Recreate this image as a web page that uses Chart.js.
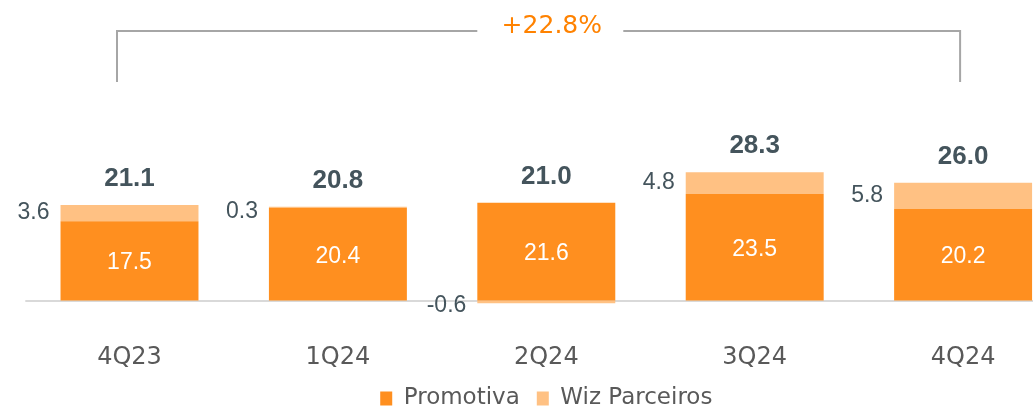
<!DOCTYPE html>
<html>
<head>
<meta charset="utf-8">
<script src="https://cdn.jsdelivr.net/npm/chart.js@4.4.1/dist/chart.umd.min.js"></script>
<style>
  html, body { margin: 0; padding: 0; background: #fff; overflow: hidden; }
  #wrap { width: 1033px; height: 407px; overflow: hidden; }
  canvas { display: block; }
</style>
</head>
<body>
<div id="wrap"><canvas id="chart" width="1114" height="420"></canvas></div>
<script>
const quarters = ["4Q23", "1Q24", "2Q24", "3Q24", "4Q24"];
const promotiva = [17.5, 20.4, 21.6, 23.5, 20.2];
const wizParceiros = [3.6, 0.3, -0.6, 4.8, 5.8];
const totals = [21.1, 20.8, 21.0, 28.3, 26.0];
const seriesNames = ["Promotiva", "Wiz Parceiros"];
const growthLabel = "+22.8%";

const orange = "#ff8f1f";
const peach = "#ffc183";
const slate = "#44545c";
const gray = "#595959";

const fmt = v => v.toFixed(1);

// baseline, value labels and the growth bracket
const labelPlugin = {
  id: "labels",
  beforeDatasetsDraw(chart) {
    const {ctx, chartArea, scales: {y}} = chart;
    const y0 = y.getPixelForValue(0);
    ctx.save();
    ctx.strokeStyle = "#d9d9d9";
    ctx.lineWidth = 2;
    ctx.beginPath();
    ctx.moveTo(chartArea.left, y0 + 0.5);
    ctx.lineTo(chartArea.right, y0 + 0.5);
    ctx.stroke();
    ctx.restore();
  },
  afterDatasetsDraw(chart) {
    const ctx = chart.ctx;
    const m0 = chart.getDatasetMeta(0).data;
    const m1 = chart.getDatasetMeta(1).data;
    ctx.save();
    ctx.textBaseline = "middle";
    quarters.forEach((q, i) => {
      const a = m0[i], b = m1[i];
      ctx.fillStyle = "#fff";
      ctx.font = "23px 'Liberation Sans'";
      ctx.textAlign = "center";
      ctx.fillText(fmt(promotiva[i]), a.x, (a.y + a.base) / 2 + 2);

      const top = Math.min(b.y, b.base);
      const ly = Math.max((b.y + b.base) / 2, top + 5);
      ctx.fillStyle = slate;
      ctx.textAlign = "right";
      ctx.fillText(fmt(wizParceiros[i]), b.x - b.width / 2 - 11, ly);

      const stackTop = Math.min(a.y, a.base, b.y, b.base);
      ctx.font = "bold 26px 'Liberation Sans'";
      ctx.textAlign = "center";
      ctx.fillText(fmt(totals[i]), a.x, stackTop - 26);
    });
    ctx.restore();
  },
  afterDraw(chart) {
    const {ctx, scales: {x}} = chart;
    const left = x.getPixelForValue(0) - 12.5;
    const right = x.getPixelForValue(4) - 3;
    const mid = x.getPixelForValue(2) + 4;
    const top = 31, bottom = 82, gap = 73;
    ctx.save();
    ctx.strokeStyle = "#a6a6a6";
    ctx.lineWidth = 2;
    ctx.beginPath();
    ctx.moveTo(left, bottom);
    ctx.lineTo(left, top);
    ctx.lineTo(mid - gap, top);
    ctx.moveTo(mid + gap, top);
    ctx.lineTo(right, top);
    ctx.lineTo(right, bottom);
    ctx.stroke();
    ctx.fillStyle = "#ff8200";
    ctx.font = "25px 'DejaVu Sans'";
    ctx.textAlign = "center";
    ctx.textBaseline = "middle";
    ctx.fillText(growthLabel, mid + 1.5, 26);
    ctx.restore();
  }
};

Chart.defaults.font.family = "'Liberation Sans', Arial, sans-serif";

const ctx = document.getElementById("chart").getContext("2d");
const chart = new Chart(ctx, {
  type: "bar",
  data: {
    labels: quarters,
    datasets: [{
      label: seriesNames[0],
      data: promotiva,
      backgroundColor: orange,
      borderWidth: 0,
      barPercentage: 0.662,
      categoryPercentage: 1
    }, {
      label: seriesNames[1],
      data: wizParceiros,
      backgroundColor: peach,
      borderWidth: 0,
      barPercentage: 0.662,
      categoryPercentage: 1
    }]
  },
  options: {
    responsive: false,
    animation: false,
    layout: { padding: { left: 25.3, right: 46.7, top: 40, bottom: 0 } },
    scales: {
      x: {
        stacked: true,
        grid: { display: false },
        border: { display: false },
        ticks: { color: gray, padding: 7, font: { family: "'DejaVu Sans'", size: 24, lineHeight: 0.4 } }
      },
      y: {
        stacked: true,
        display: false,
        min: -8.37,
        max: 57.5
      }
    },
    plugins: {
      legend: {
        position: "bottom",
        labels: {
          color: gray,
          boxWidth: 12,
          boxHeight: 14,
          padding: 17,
          font: { family: "'DejaVu Sans'", size: 23 }
        }
      },
      tooltip: { enabled: false }
    }
  },
  plugins: [labelPlugin]
});
</script>
</body>
</html>
